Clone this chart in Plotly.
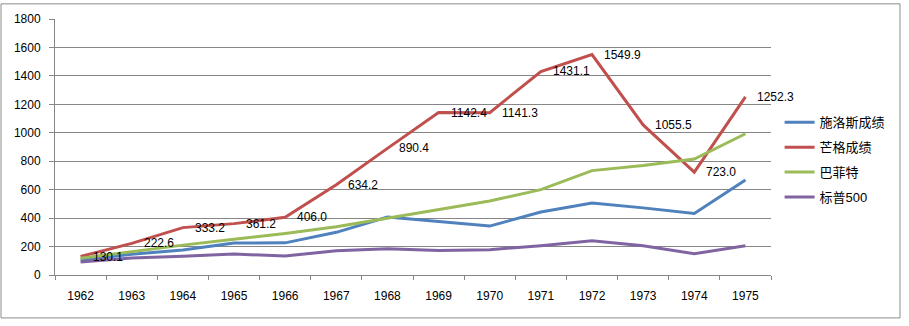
import plotly.graph_objects as go

years = ["1962", "1963", "1964", "1965", "1966", "1967", "1968", "1969",
         "1970", "1971", "1972", "1973", "1974", "1975"]
schloss = [106, 146, 176, 225, 226, 300, 408, 378, 344, 443, 506, 472, 433, 668]
munger = [130.1, 222.6, 333.2, 361.2, 406.0, 634.2, 890.4, 1142.4,
          1141.3, 1431.1, 1549.9, 1055.5, 723.0, 1252.3]
buffett = [118, 166, 210, 252, 292, 339, 400, 462, 520, 600, 734, 770, 815, 993]
sp500 = [92, 119, 132, 147, 133, 171, 185, 172, 178, 206, 240, 205, 149, 205]

names = ["施洛斯成绩", "芒格成绩", "巴菲特", "标普500"]
colors = ["#4F81BD", "#C0504D", "#9BBB59", "#8064A2"]
series = [schloss, munger, buffett, sp500]

FONT = "Liberation Sans, Noto Sans CJK SC, sans-serif"

fig = go.Figure()
for name, vals, col in zip(names, series, colors):
    fig.add_trace(go.Scatter(x=years, y=vals, name=name, mode="lines",
                             legendgroup=name,
                             line=dict(color=col, width=3)))

for i, v in enumerate(munger):
    fig.add_annotation(x=i, y=v, xref="x", yref="y", text=f"{v:.1f}",
                       showarrow=False, xanchor="left", yanchor="middle",
                       xshift=10,
                       font=dict(size=12, color="black", family=FONT))

fig.add_shape(type="rect", xref="paper", yref="paper",
              x0=-0.0754, x1=1.1802, y0=-0.1676, y1=1.0592,
              line=dict(color="#8C8C8C", width=1), layer="below")

fig.update_layout(
    width=909, height=326,
    margin=dict(l=55, r=138, t=16, b=51),
    paper_bgcolor="white", plot_bgcolor="white",
    font=dict(family=FONT, size=12, color="black"),
    showlegend=True,
    legend=dict(x=1.012, y=0.655, xanchor="left", yanchor="top",
                font=dict(size=13, family=FONT), itemwidth=30,
                tracegroupgap=5, bgcolor="rgba(0,0,0,0)"),
    xaxis=dict(type="category", range=[-0.5, 13.5], tickson="boundaries",
               ticks="outside", ticklen=4, tickcolor="#868686",
               showline=True, linecolor="#868686", linewidth=1,
               showgrid=False, ticklabelstandoff=10,
               tickfont=dict(size=12)),
    yaxis=dict(range=[0, 1800], dtick=200, ticks="outside", ticklen=5,
               tickcolor="#868686", showline=True, linecolor="#868686",
               linewidth=1, showgrid=True, gridcolor="#868686",
               gridwidth=1, zeroline=False, ticklabelstandoff=6,
               tickfont=dict(size=12)),
)

fig.write_html("out.html")
